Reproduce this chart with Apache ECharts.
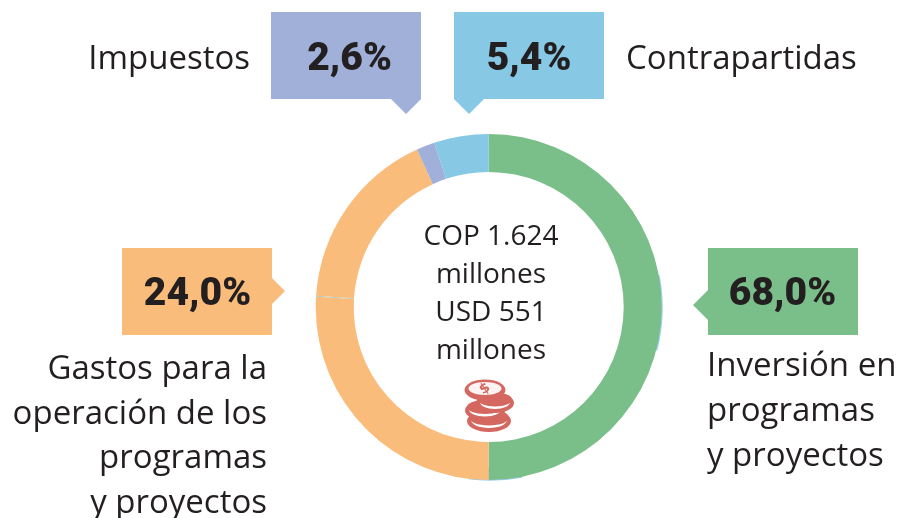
<!DOCTYPE html>
<html><head><meta charset="utf-8">
<style>html,body{margin:0;padding:0;background:#fff}#c{width:900px;height:518px}</style>
<script src="https://cdn.jsdelivr.net/npm/echarts@6/dist/echarts.min.js"></script></head>
<body><div id="c"></div>
<script>
// Printed shares (labels) and the arc shares as drawn in the picture, in % of the ring.
const categories = ['Inversión en programas y proyectos','Gastos para la operación de los programas y proyectos','Impuestos','Contrapartidas'];
const printedLabels = ['68,0%','24,0%','2,6%','5,4%'];
const ringNames = ['Inversión','Gastos (inferior)','Junta','Gastos (superior)','Impuestos','Contrapartidas'];
const ringValues = [50, 25.95, 0.08, 17.17, 1.7, 5.1];
const ringColors = ['#7abe89','#f9bc7b','#b9c6b8','#f9bc7b','#a0b0d9','#87c8e4'];
// Pale blue slivers that peek out from behind the green arc: gap, sliver, gap ...
const sliverValues = [22, 7, 18, 5, 48];
const centerLines = ['COP 1.624','millones','USD 551','millones'];

const chart = echarts.init(document.getElementById('c'), null, {renderer:'canvas'});
const FONT = '"Open Sans"';
const DARK = '#231f20';
const BOLD = 'Roboto';
function callout(points, color){
  return {type:'polygon', shape:{points}, style:{fill:color}, silent:true};
}
function txt(x,y,t,size,align,weight,family,fill){
  return {type:'text', x, y, silent:true, style:{text:t, fontSize:size, fontFamily:family||FONT, fontWeight:weight||400, fill:fill||DARK, align:align||'left', verticalAlign:'middle'}};
}
const coin = '#d4675f';
function disc(cx,cy,rx,ry,fill){ return {type:'ellipse', shape:{cx,cy,rx,ry}, silent:true, style:{fill:fill||coin}}; }
function stacked(cx,cy,rx,ry){
  return [disc(cx,cy,rx,ry), disc(cx,cy-1,rx-4,ry-3,'#fff'), disc(cx,cy-3.5,rx-2,ry-3)];
}
const gr = [
  callout([[271,12],[421,12],[421,99],[406,114],[391,99],[271,99]], '#a0b0d9'),
  callout([[454,12],[604,12],[604,99],[484,99],[469,114],[454,99]], '#87c8e4'),
  callout([[122,248],[272,248],[272,278],[285,291],[272,304],[272,335],[122,335]], '#f9bc7b'),
  callout([[708,248],[858,248],[858,335],[708,335],[708,320],[693,305],[708,290]], '#7abe89'),
  txt(349.5,60,printedLabels[2],39,'center',900,BOLD),
  txt(529,60,printedLabels[3],39,'center',900,BOLD),
  txt(197.5,295,printedLabels[1],39,'center',900,BOLD),
  txt(782.5,295,printedLabels[0],39,'center',900,BOLD),
  txt(250,60,'Impuestos',33,'right'),
  txt(626,60,'Contrapartidas',33,'left'),
  txt(267,370,'Gastos para la',33,'right'),
  txt(267,415,'operación de los',33,'right'),
  txt(267,459,'programas',33,'right'),
  txt(267,504,'y proyectos',33,'right'),
  txt(707,367,'Inversión en',33,'left'),
  txt(707,412,'programas',33,'left'),
  txt(707,457,'y proyectos',33,'left'),
  txt(491,237,centerLines[0],28,'center'),
  txt(491,275,centerLines[1],28,'center'),
  txt(491,313,centerLines[2],28,'center'),
  txt(491,351,centerLines[3],28,'center'),
  // coin stack icon
  ...stacked(489,421,22,11),
  ...stacked(485,410.5,20,10),
  ...stacked(495,403,19,10),
  disc(485,390,20.5,10.5), disc(485,388.5,16.5,6.5,'#fdf3f2'),
  Object.assign(txt(485,389,'$',14,'center',800,'"DejaVu Sans"',coin), {rotation:0.6, originX:0, originY:0})
];
chart.setOption({
  animation:false,
  series:[
    {type:'pie', silent:true, z:1, center:[489.7,307.7], radius:[160,173], startAngle:90, label:{show:false}, labelLine:{show:false},
     data:sliverValues.map((v,i)=>({value:v, itemStyle:{color:i%2?'#9ccfec':'rgba(0,0,0,0)'}}))},
    {type:'pie', silent:true, z:2, center:[488.7,307], radius:[135,173], startAngle:90, clockwise:true,
     label:{show:false}, labelLine:{show:false},
     data: ringValues.map((v,i)=>({name:ringNames[i], value:v, itemStyle:{color:ringColors[i]}}))}
  ],
  graphic: gr
});
</script></body></html>
